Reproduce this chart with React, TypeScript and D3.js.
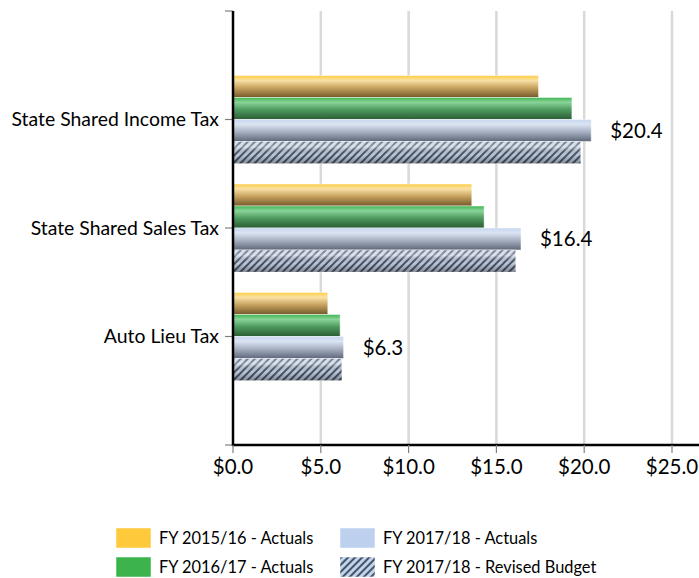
import React from 'react';
import * as d3 from 'd3';

const categories = ['State Shared Income Tax', 'State Shared Sales Tax', 'Auto Lieu Tax'];
const seriesNames = [
    'FY 2015/16 - Actuals',
    'FY 2016/17 - Actuals',
    'FY 2017/18 - Actuals',
    'FY 2017/18 - Revised Budget',
];
const fy1516 = [17.4, 13.6, 5.4];
const fy1617 = [19.3, 14.3, 6.1];
const fy1718 = [20.4, 16.4, 6.3];
const fy1718Budget = [19.8, 16.1, 6.2];
const xTicks = [0, 5, 10, 15, 20, 25];

const seriesValues = [fy1516, fy1617, fy1718, fy1718Budget];
const fills = ['url(#gYellow)', 'url(#gGreen)', 'url(#gBlue)', 'url(#pHatch)'];
const legendFills = ['#ffc93c', '#3cb44b', '#bdd1ee', 'url(#pHatchFlat)'];

const W = 699;
const H = 578;
const font = 'Lato, "Open Sans", sans-serif';

const App = () => {
    const x = d3.scaleLinear().domain([0, 25]).range([233, 672]);
    // category positions sit on the inner ticks of the axis
    const yPos = d3
        .scalePoint()
        .domain(['_top', ...categories, '_bottom'])
        .range([11, 445]);
    const inner = d3.scaleBand().domain(seriesNames).range([-44, 44]);

    return (
        <svg width={W} height={H} style={{ position: 'absolute', left: 0, top: 0, background: '#fff' }}>
            <defs>
                <linearGradient id="gYellow" x1="0" y1="0" x2="0" y2="1">
                    <stop offset="0" stopColor="#ffcd45" />
                    <stop offset="0.22" stopColor="#f9e1a4" />
                    <stop offset="0.55" stopColor="#c9a461" />
                    <stop offset="1" stopColor="#73592a" />
                </linearGradient>
                <linearGradient id="gGreen" x1="0" y1="0" x2="0" y2="1">
                    <stop offset="0" stopColor="#3fb550" />
                    <stop offset="0.22" stopColor="#8ad49a" />
                    <stop offset="0.55" stopColor="#4f9a5e" />
                    <stop offset="1" stopColor="#2a5c34" />
                </linearGradient>
                <linearGradient id="gBlue" x1="0" y1="0" x2="0" y2="1">
                    <stop offset="0" stopColor="#c6d7f0" />
                    <stop offset="0.22" stopColor="#dbe4f2" />
                    <stop offset="0.55" stopColor="#a9b3c4" />
                    <stop offset="1" stopColor="#5e6779" />
                </linearGradient>
                <linearGradient id="gShade" x1="0" y1="0" x2="0" y2="1">
                    <stop offset="0" stopColor="#ffffff" stopOpacity="0.2" />
                    <stop offset="0.25" stopColor="#ffffff" stopOpacity="0.4" />
                    <stop offset="0.6" stopColor="#000000" stopOpacity="0.05" />
                    <stop offset="1" stopColor="#000000" stopOpacity="0.35" />
                </linearGradient>
                <pattern id="pHatch" width="5" height="5" patternUnits="userSpaceOnUse" patternTransform="rotate(45)">
                    <rect width="5" height="5" fill="#c6d2e3" />
                    <rect width="2" height="5" fill="#4c5870" />
                </pattern>
                <pattern id="pHatchFlat" width="5" height="5" patternUnits="userSpaceOnUse" patternTransform="rotate(45)">
                    <rect width="5" height="5" fill="#c3d3ea" />
                    <rect width="2" height="5" fill="#44546a" />
                </pattern>
            </defs>

            {/* grid */}
            {xTicks.slice(1).map((t) => (
                <line key={t} x1={x(t)} x2={x(t)} y1={11} y2={445} stroke="#d9d9d9" strokeWidth={2.5} />
            ))}

            {/* bars */}
            {categories.map((c, ci) => (
                <g key={c} transform={`translate(0, ${yPos(c)})`}>
                    {seriesNames.map((s, si) => (
                        <g key={s}>
                            <rect
                                x={x(0)}
                                y={inner(s)}
                                width={x(seriesValues[si][ci]) - x(0)}
                                height={inner.bandwidth()}
                                fill={fills[si]}
                                stroke="#ffffff"
                                strokeOpacity={0.6}
                                strokeWidth={0.8}
                            />
                            {si === 3 && (
                                <rect
                                    x={x(0)}
                                    y={inner(s)}
                                    width={x(seriesValues[si][ci]) - x(0)}
                                    height={inner.bandwidth()}
                                    fill="url(#gShade)"
                                />
                            )}
                        </g>
                    ))}
                    <text
                        x={x(fy1718[ci]) + 19}
                        y={(inner(seriesNames[2]) ?? 0) + inner.bandwidth() / 2}
                        dy="0.35em"
                        fontFamily={font}
                        fontSize={20.5}
                        fill="#000"
                    >
                        ${fy1718[ci].toFixed(1)}
                    </text>
                </g>
            ))}

            {/* y axis */}
            {yPos.domain().map((d) => (
                <line key={d} x1={225} x2={233} y1={yPos(d)} y2={yPos(d)} stroke="#808080" strokeWidth={1.2} />
            ))}
            {categories.map((c) => (
                <text
                    key={c}
                    x={219}
                    y={yPos(c)}
                    dy="0.35em"
                    textAnchor="end"
                    fontFamily={font}
                    fontSize={19.4}
                    fill="#000"
                >
                    {c}
                </text>
            ))}
            <line x1={233} x2={233} y1={11} y2={446} stroke="#000" strokeWidth={2.5} />

            {/* x axis */}
            <line x1={232} x2={699} y1={445} y2={445} stroke="#000" strokeWidth={2.5} />
            {xTicks.map((t) => (
                <g key={t}>
                    <line x1={x(t)} x2={x(t)} y1={445} y2={453} stroke="#808080" strokeWidth={1.2} />
                    <text
                        x={x(t)}
                        y={467}
                        dy="0.35em"
                        textAnchor="middle"
                        fontFamily={font}
                        fontSize={20.5}
                        fill="#000"
                    >
                        ${t.toFixed(1)}
                    </text>
                </g>
            ))}

            {/* legend */}
            {seriesNames.map((s, i) => {
                const col = Math.floor(i / 2);
                const row = i % 2;
                const lx = col === 0 ? 116 : 340;
                const ly = 528 + row * 29;
                return (
                    <g key={s} transform={`translate(${lx}, ${ly})`}>
                        <rect width={35} height={20} fill={legendFills[i]} stroke="#ffffff" strokeWidth={0.5} />
                        <text x={43} y={10} dy="0.35em" fontFamily={font} fontSize={16.4} fill="#000">
                            {s}
                        </text>
                    </g>
                );
            })}
        </svg>
    );
};

export default App;
